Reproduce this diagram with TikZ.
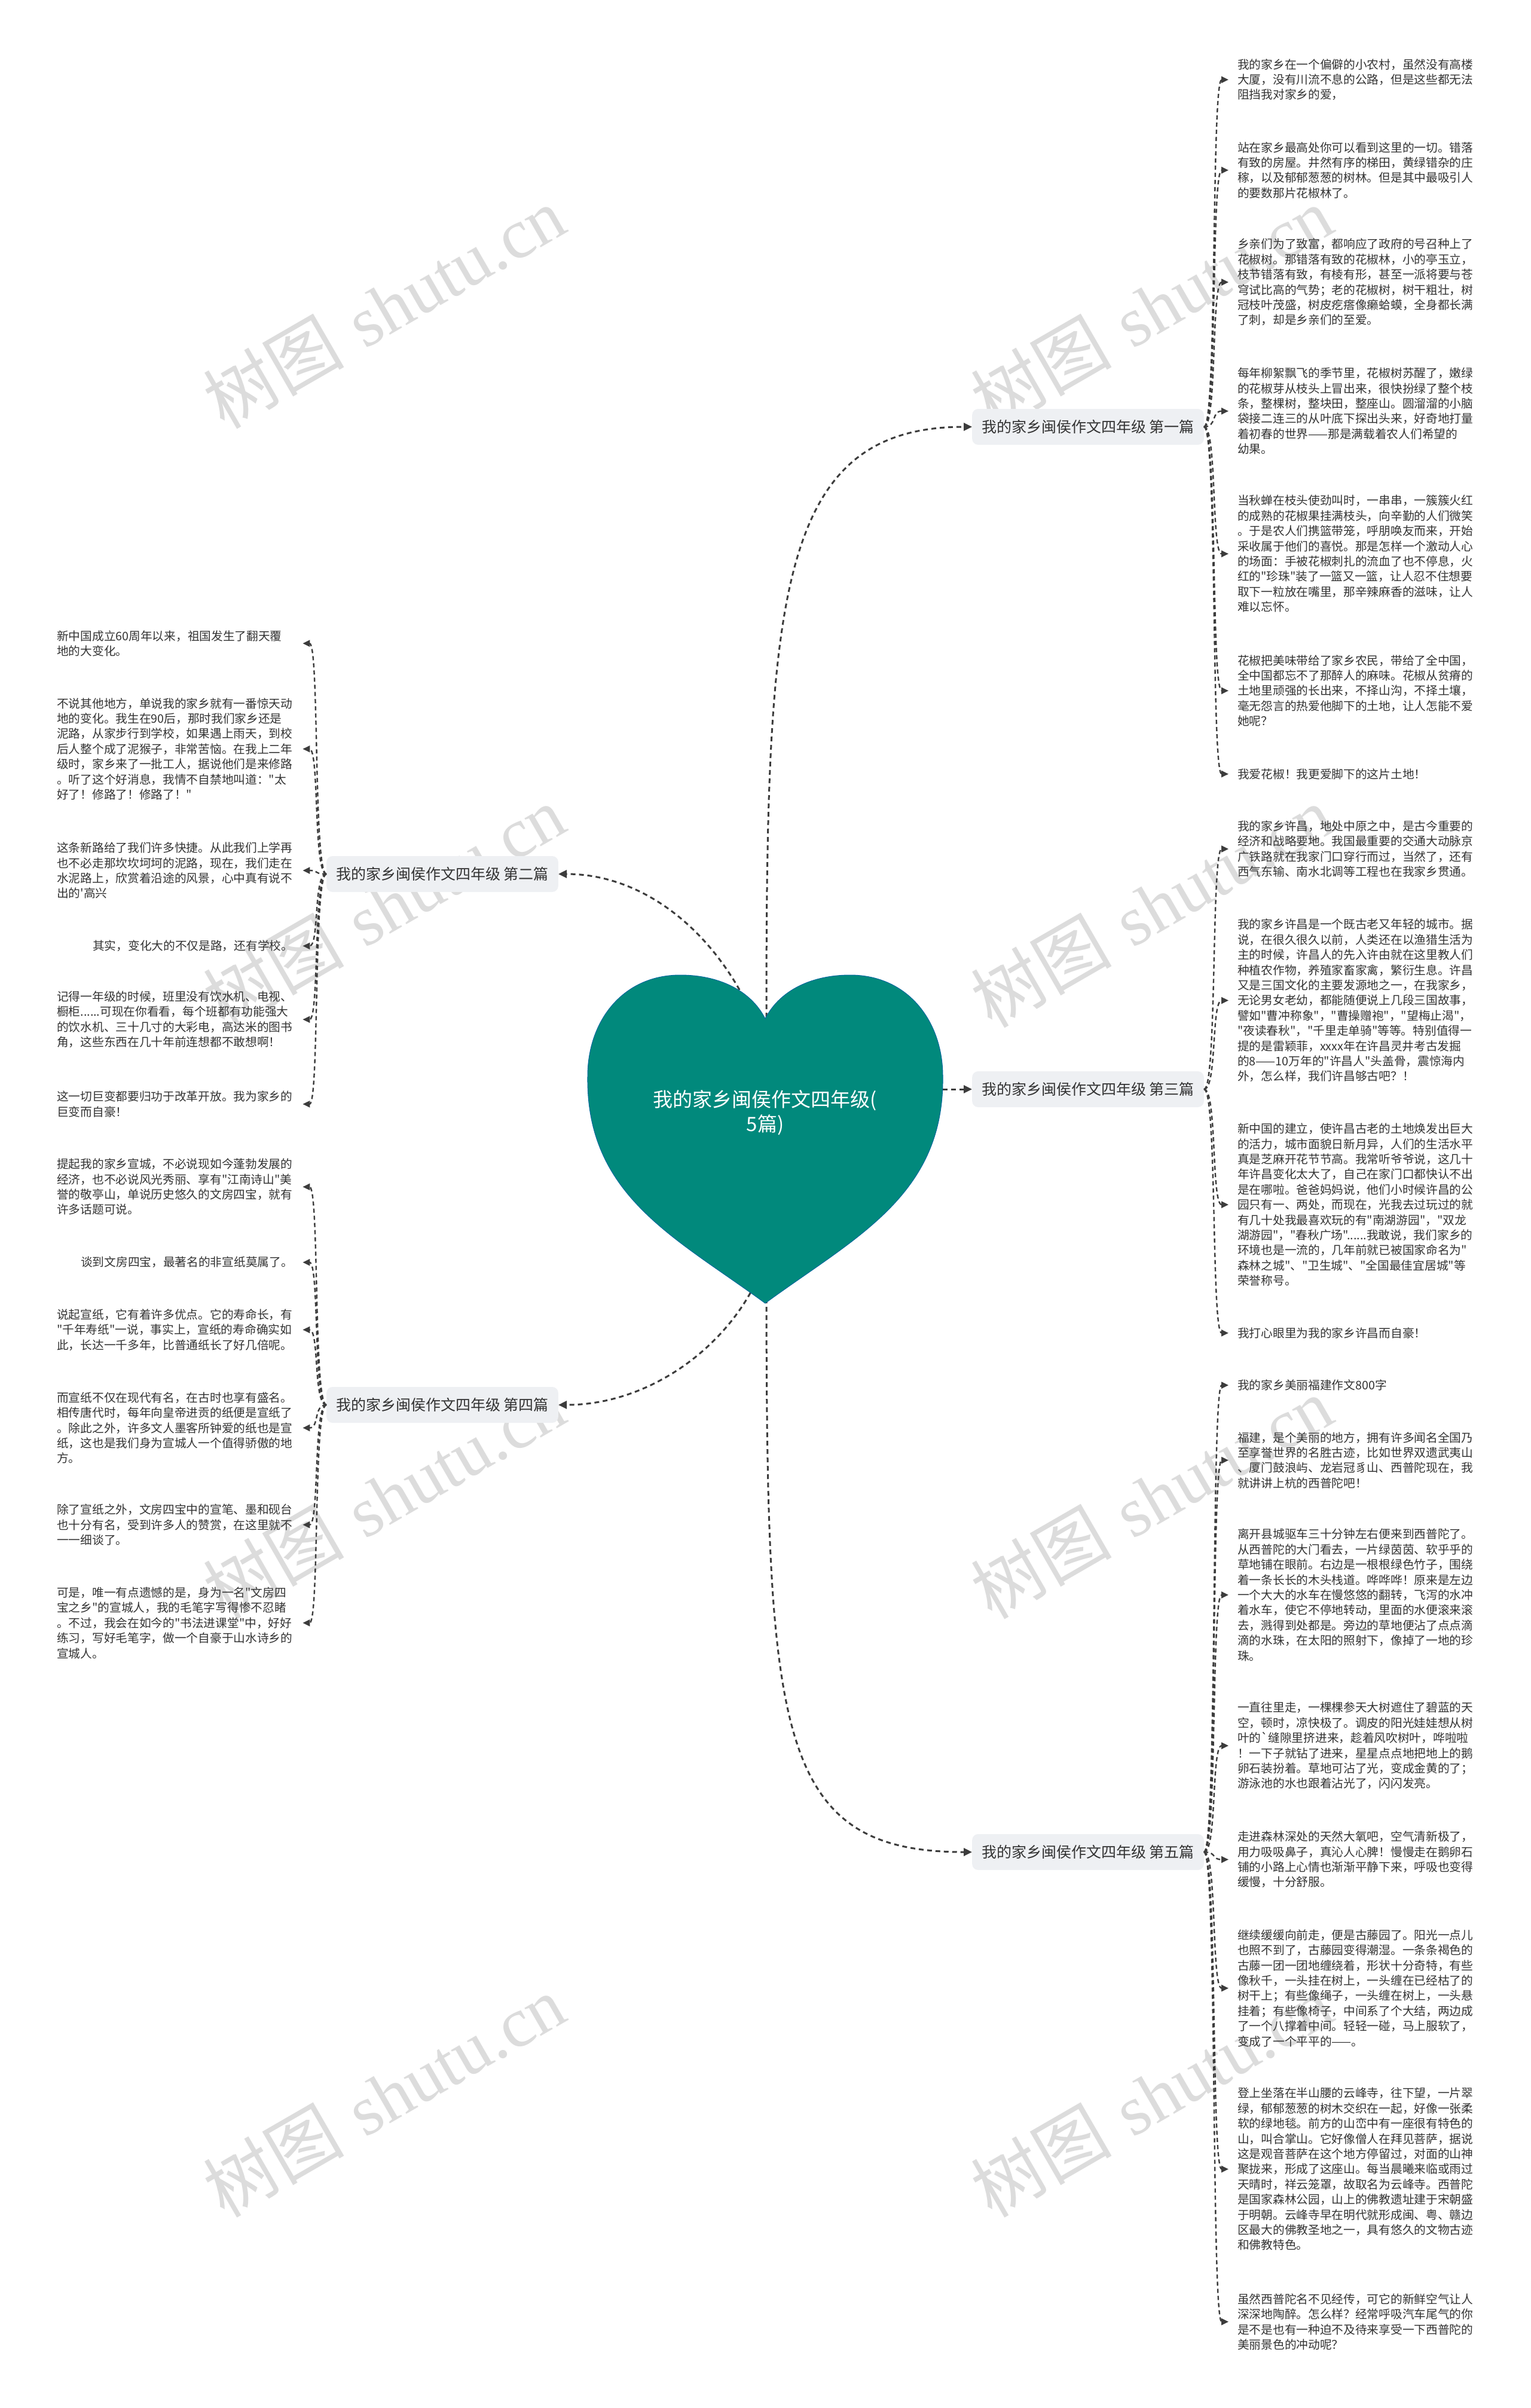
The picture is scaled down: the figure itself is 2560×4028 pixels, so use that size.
\documentclass[tikz,border=0pt]{standalone}
\usepackage{fontspec}
\newfontfamily\cjkf{Noto Sans CJK SC}[Ligatures=TeXOff]
\newfontfamily\wmlat{Liberation Serif}
\usetikzlibrary{arrows.meta}
\definecolor{teal1}{RGB}{1,137,124}
\definecolor{boxgray}{RGB}{238,240,243}
\definecolor{txt}{RGB}{51,51,51}
\definecolor{connc}{RGB}{60,60,60}
\definecolor{wm}{RGB}{220,220,220}
\begin{document}
\begin{tikzpicture}[x=1pt,y=-1pt,
  leaf/.style={font=\cjkf\fontsize{19.7}{25.4}\selectfont, text=txt, align=left, text width=396pt, inner sep=0pt, anchor=west},
  branch/.style={font=\cjkf\fontsize{25}{30}\selectfont, text=txt, fill=boxgray, rounded corners=10pt, minimum height=60pt, inner xsep=16pt, inner ysep=0pt},
  mainconn/.style={draw=connc, line width=3pt, dash pattern=on 8pt off 6pt, -{Triangle[length=14pt,width=13pt]}},
  leafconn/.style={draw=connc, line width=2.4pt, dash pattern=on 7pt off 5pt, -{Triangle[length=12pt,width=11pt]}},
  wmark/.style={text=wm, rotate=30, inner sep=0pt, font=\fontsize{118}{120}\selectfont}
]
\fill[white] (0,0) rectangle (2560,4028);
\useasboundingbox (0,0) rectangle (2560,4028);

% watermarks
\foreach \wx/\wy [count=\i] in {642/514,1926/514,642/1516,1926/1516,642/2505,1926/2505,642/3506,1926/3506}
  \node[wmark] (wm\i) at (\wx,\wy) {{\cjkf 树图} {\wmlat shutu.cn}};

% branch nodes
\node[branch] (b1) at (1820,714) {我的家乡闽侯作文四年级 第一篇};
\node[branch] (b2) at (740,1462) {我的家乡闽侯作文四年级 第二篇};
\node[branch] (b3) at (1820,1822) {我的家乡闽侯作文四年级 第三篇};
\node[branch] (b4) at (740,2350) {我的家乡闽侯作文四年级 第四篇};
\node[branch] (b5) at (1820,3098) {我的家乡闽侯作文四年级 第五篇};

% right leaves, section 1
\node[leaf] (r1) at (2070,133.3) {我的家乡在一个偏僻的小农村，虽然没有高楼\\大厦，没有川流不息的公路，但是这些都无法\\阻挡我对家乡的爱，};
\node[leaf] (r2) at (2070,284.7) {站在家乡最高处你可以看到这里的一切。错落\\有致的房屋。井然有序的梯田，黄绿错杂的庄\\稼，以及郁郁葱葱的树林。但是其中最吸引人\\的要数那片花椒林了。};
\node[leaf] (r3) at (2070,472) {乡亲们为了致富，都响应了政府的号召种上了\\花椒树。那错落有致的花椒林，小的亭玉立，\\枝节错落有致，有棱有形，甚至一派将要与苍\\穹试比高的气势；老的花椒树，树干粗壮，树\\冠枝叶茂盛，树皮疙瘩像癞蛤蟆，全身都长满\\了刺，却是乡亲们的至爱。};
\node[leaf] (r4) at (2070,687.7) {每年柳絮飘飞的季节里，花椒树苏醒了，嫩绿\\的花椒芽从枝头上冒出来，很快扮绿了整个枝\\条，整棵树，整块田，整座山。圆溜溜的小脑\\袋接二连三的从叶底下探出头来，好奇地打量\\着初春的世界——那是满载着农人们希望的\\幼果。};
\node[leaf] (r5) at (2070,926.4) {当秋蝉在枝头使劲叫时，一串串，一簇簇火红\\的成熟的花椒果挂满枝头，向辛勤的人们微笑\\。于是农人们携篮带笼，呼朋唤友而来，开始\\采收属于他们的喜悦。那是怎样一个激动人心\\的场面：手被花椒刺扎的流血了也不停息，火\\红的"珍珠"装了一篮又一篮，让人忍不住想要\\取下一粒放在嘴里，那辛辣麻香的滋味，让人\\难以忘怀。};
\node[leaf] (r6) at (2070,1155.4) {花椒把美味带给了家乡农民，带给了全中国，\\全中国都忘不了那醉人的麻味。花椒从贫瘠的\\土地里顽强的长出来，不择山沟，不择土壤，\\毫无怨言的热爱他脚下的土地，让人怎能不爱\\她呢？};
\node[leaf] (r7) at (2070,1294.7) {我爱花椒！我更爱脚下的这片土地！};

% right leaves, section 3
\node[leaf] (r8) at (2070,1420.1) {我的家乡许昌，地处中原之中，是古今重要的\\经济和战略要地。我国最重要的交通大动脉京\\广铁路就在我家门口穿行而过，当然了，还有\\西气东输、南水北调等工程也在我家乡贯通。};
\node[leaf] (r9) at (2070,1673.5) {我的家乡许昌是一个既古老又年轻的城市。据\\说，在很久很久以前，人类还在以渔猎生活为\\主的时候，许昌人的先入许由就在这里教人们\\种植农作物，养殖家畜家禽，繁衍生息。许昌\\又是三国文化的主要发源地之一，在我家乡，\\无论男女老幼，都能随便说上几段三国故事，\\譬如"曹冲称象"，"曹操赠袍"，"望梅止渴"，\\"夜读春秋"，"千里走单骑"等等。特别值得一\\提的是雷颖菲，xxxx年在许昌灵井考古发掘\\的8——10万年的"许昌人"头盖骨，震惊海内\\外，怎么样，我们许昌够古吧？！};
\node[leaf] (r10) at (2070,2015.1) {新中国的建立，使许昌古老的土地焕发出巨大\\的活力，城市面貌日新月异，人们的生活水平\\真是芝麻开花节节高。我常听爷爷说，这几十\\年许昌变化太大了，自己在家门口都快认不出\\是在哪啦。爸爸妈妈说，他们小时候许昌的公\\园只有一、两处，而现在，光我去过玩过的就\\有几十处我最喜欢玩的有"南湖游园"，"双龙\\湖游园"，"春秋广场"......我敢说，我们家乡的\\环境也是一流的，几年前就已被国家命名为"\\森林之城"、"卫生城"、"全国最佳宜居城"等\\荣誉称号。};
\node[leaf] (r11) at (2070,2229.8) {我打心眼里为我的家乡许昌而自豪！};

% right leaves, section 5
\node[leaf] (r12) at (2070,2317.1) {我的家乡美丽福建作文800字};
\node[leaf] (r13) at (2070,2442.6) {福建，是个美丽的地方，拥有许多闻名全国乃\\至享誉世界的名胜古迹，比如世界双遗武夷山\\、厦门鼓浪屿、龙岩冠豸山、西普陀现在，我\\就讲讲上杭的西普陀吧！};
\node[leaf] (r14) at (2070,2667.9) {离开县城驱车三十分钟左右便来到西普陀了。\\从西普陀的大门看去，一片绿茵茵、软乎乎的\\草地铺在眼前。右边是一根根绿色竹子，围绕\\着一条长长的木头栈道。哗哗哗！原来是左边\\一个大大的水车在慢悠悠的翻转，飞泻的水冲\\着水车，使它不停地转动，里面的水便滚来滚\\去，溅得到处都是。旁边的草地便沾了点点滴\\滴的水珠，在太阳的照射下，像掉了一地的珍\\珠。};
\node[leaf] (r15) at (2070,2920.1) {一直往里走，一棵棵参天大树遮住了碧蓝的天\\空，顿时，凉快极了。调皮的阳光娃娃想从树\\叶的`缝隙里挤进来，趁着风吹树叶，哗啦啦\\！一下子就钻了进来，星星点点地把地上的鹅\\卵石装扮着。草地可沾了光，变成金黄的了；\\游泳池的水也跟着沾光了，闪闪发亮。};
\node[leaf] (r16) at (2070,3110.5) {走进森林深处的天然大氧吧，空气清新极了，\\用力吸吸鼻子，真沁人心脾！慢慢走在鹅卵石\\铺的小路上心情也渐渐平静下来，呼吸也变得\\缓慢，十分舒服。};
\node[leaf] (r17) at (2070,3325.7) {继续缓缓向前走，便是古藤园了。阳光一点儿\\也照不到了，古藤园变得潮湿。一条条褐色的\\古藤一团一团地缠绕着，形状十分奇特，有些\\像秋千，一头挂在树上，一头缠在已经枯了的\\树干上；有些像绳子，一头缠在树上，一头悬\\挂着；有些像椅子，中间系了个大结，两边成\\了一个八撑着中间。轻轻一碰，马上服软了，\\变成了一个平平的——。};
\node[leaf] (r18) at (2070,3628.4) {登上坐落在半山腰的云峰寺，往下望，一片翠\\绿，郁郁葱葱的树木交织在一起，好像一张柔\\软的绿地毯。前方的山峦中有一座很有特色的\\山，叫合掌山。它好像僧人在拜见菩萨，据说\\这是观音菩萨在这个地方停留过，对面的山神\\聚拢来，形成了这座山。每当晨曦来临或雨过\\天晴时，祥云笼罩，故取名为云峰寺。西普陀\\是国家森林公园，山上的佛教遗址建于宋朝盛\\于明朝。云峰寺早在明代就形成闽、粤、赣边\\区最大的佛教圣地之一，具有悠久的文物古迹\\和佛教特色。};
\node[leaf] (r19) at (2070,3883.7) {虽然西普陀名不见经传，可它的新鲜空气让人\\深深地陶醉。怎么样？经常呼吸汽车尾气的你\\是不是也有一种迫不及待来享受一下西普陀的\\美丽景色的冲动呢？};

% left leaves, section 2
\node[leaf] (l1) at (95,1076.2) {新中国成立60周年以来，祖国发生了翻天覆\\地的大变化。};
\node[leaf] (l2) at (95,1252.8) {不说其他地方，单说我的家乡就有一番惊天动\\地的变化。我生在90后，那时我们家乡还是\\泥路，从家步行到学校，如果遇上雨天，到校\\后人整个成了泥猴子，非常苦恼。在我上二年\\级时，家乡来了一批工人，据说他们是来修路\\。听了这个好消息，我情不自禁地叫道："太\\好了！修路了！修路了！"};
\node[leaf] (l3) at (95,1456.1) {这条新路给了我们许多快捷。从此我们上学再\\也不必走那坎坎坷坷的泥路，现在，我们走在\\水泥路上，欣赏着沿途的风景，心中真有说不\\出的'高兴};
\node[leaf] (l4) at (95,1582.4) {\hspace*{60pt}其实，变化大的不仅是路，还有学校。};
\node[leaf] (l5) at (95,1705.3) {记得一年级的时候，班里没有饮水机、电视、\\橱柜......可现在你看看，每个班都有功能强大\\的饮水机、三十几寸的大彩电，高达米的图书\\角，这些东西在几十年前连想都不敢想啊！};
\node[leaf] (l6) at (95,1846.9) {这一切巨变都要归功于改革开放。我为家乡的\\巨变而自豪！};

% left leaves, section 4
\node[leaf] (l7) at (95,1985.3) {提起我的家乡宣城，不必说现如今蓬勃发展的\\经济，也不必说风光秀丽、享有"江南诗山"美\\誉的敬亭山，单说历史悠久的文房四宝，就有\\许多话题可说。};
\node[leaf] (l8) at (95,2111.6) {\hspace*{40pt}谈到文房四宝，最著名的非宣纸莫属了。};
\node[leaf] (l9) at (95,2224.4) {说起宣纸，它有着许多优点。它的寿命长，有\\"千年寿纸"一说，事实上，宣纸的寿命确实如\\此，长达一千多年，比普通纸长了好几倍呢。};
\node[leaf] (l10) at (95,2388.5) {而宣纸不仅在现代有名，在古时也享有盛名。\\相传唐代时，每年向皇帝进贡的纸便是宣纸了\\。除此之外，许多文人墨客所钟爱的纸也是宣\\纸，这也是我们身为宣城人一个值得骄傲的地\\方。};
\node[leaf] (l11) at (95,2550.6) {除了宣纸之外，文房四宝中的宣笔、墨和砚台\\也十分有名，受到许多人的赞赏，在这里就不\\一一细谈了。};
\node[leaf] (l12) at (95,2714.7) {可是，唯一有点遗憾的是，身为一名"文房四\\宝之乡"的宣城人，我的毛笔字写得惨不忍睹\\。不过，我会在如今的"书法进课堂"中，好好\\练习，写好毛笔字，做一个自豪于山水诗乡的\\宣城人。};

% leaf connectors
\foreach \n in {r1,r2,r3,r4,r5,r6,r7}
  \draw[leafconn] (b1.east) .. controls +(22,0) and +(-29,0) .. ([xshift=-15pt]\n.west);
\foreach \n in {r8,r9,r10,r11}
  \draw[leafconn] (b3.east) .. controls +(22,0) and +(-29,0) .. ([xshift=-15pt]\n.west);
\foreach \n in {r12,r13,r14,r15,r16,r17,r18,r19}
  \draw[leafconn] (b5.east) .. controls +(22,0) and +(-29,0) .. ([xshift=-15pt]\n.west);
\foreach \n in {l1,l2,l3,l4,l5,l6}
  \draw[leafconn] (b2.west) .. controls +(-22,0) and +(28,0) .. ([xshift=15pt]\n.east);
\foreach \n in {l7,l8,l9,l10,l11,l12}
  \draw[leafconn] (b4.west) .. controls +(-22,0) and +(28,0) .. ([xshift=15pt]\n.east);

% heart anchor points
\coordinate (hT) at (1282,1702);
\coordinate (hTL) at (1262,1706);
\coordinate (hB) at (1282,2172);
\coordinate (hBL) at (1262,2150);
\coordinate (hR) at (1577,1822);

% main connectors
\draw[mainconn] (hT) .. controls (1282,1000) and (1300,714) .. (b1.west);
\draw[mainconn] (hTL) .. controls (1200,1562) and (1080,1462) .. (b2.east);
\draw[mainconn] (hR) -- (b3.west);
\draw[mainconn] (hBL) .. controls (1205,2262) and (1080,2350) .. (b4.east);
\draw[mainconn] (hB) .. controls (1283,2900) and (1300,3098) .. (b5.west);

% heart
\filldraw[fill=teal1, draw=teal1!75!blue, line width=1pt]
  (1280,1704) .. controls (1305,1655) and (1360,1631) .. (1422,1631)
  .. controls (1520,1631) and (1577,1710) .. (1577,1800)
  .. controls (1580,2000) and (1430,2070) .. (1280,2180)
  .. controls (1130,2070) and (980,2000) .. (983,1800)
  .. controls (983,1710) and (1040,1631) .. (1138,1631)
  .. controls (1200,1631) and (1255,1655) .. (1280,1704) -- cycle;
\node[font=\cjkf\fontsize{33}{41}\selectfont, text=white, align=center, inner sep=0pt] (root) at (1280,1861) {我的家乡闽侯作文四年级(\\5篇)};
\end{tikzpicture}
\end{document}
